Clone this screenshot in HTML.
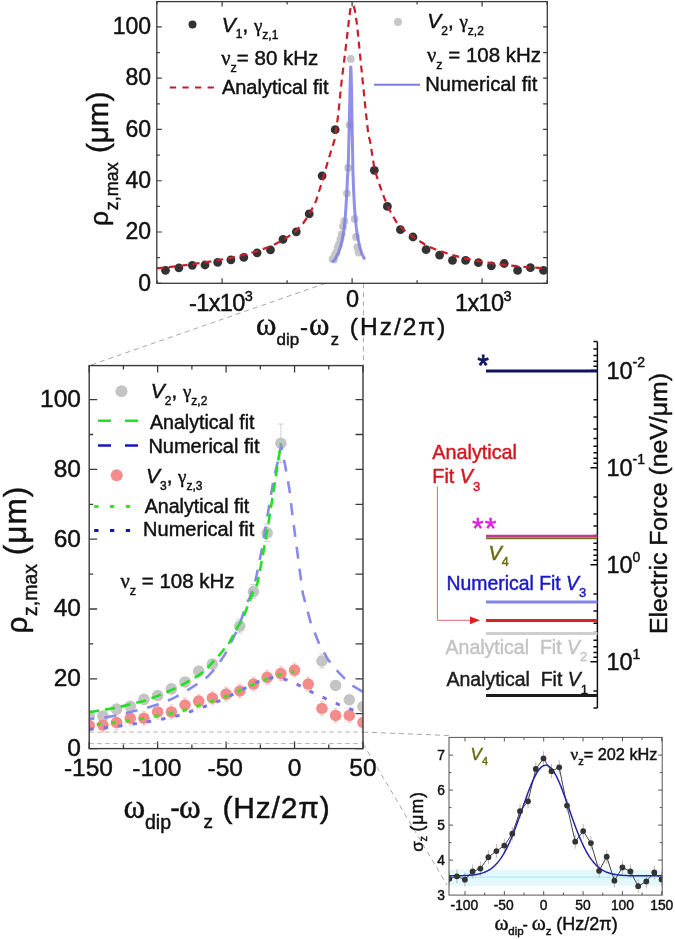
<!DOCTYPE html><html><head><meta charset="utf-8"><style>html,body{margin:0;padding:0;background:#fff;}svg{display:block;font-family:"Liberation Sans", sans-serif;filter:blur(0.4px);}</style></head><body>
<svg width="675" height="939" viewBox="0 0 675 939">
<rect width="675" height="939" fill="#fff"/>
<defs>
<clipPath id="ct"><rect x="156.8" y="1.6" width="390.5" height="281.7"/></clipPath>
<clipPath id="cl"><rect x="89.2" y="365.6" width="273.8" height="383"/></clipPath>
<clipPath id="ci"><rect x="449" y="737.4" width="213.2" height="157.7"/></clipPath>
</defs>
<line x1="325.5" y1="283.3" x2="89.2" y2="365.6" stroke="#a6a6a6" stroke-width="1" stroke-dasharray="5,4" fill="none"/>
<line x1="363.4" y1="283.3" x2="363.4" y2="365.6" stroke="#a6a6a6" stroke-width="1" stroke-dasharray="5,4" fill="none"/>
<line x1="363" y1="732.1" x2="449" y2="735.5" stroke="#a6a6a6" stroke-width="1" stroke-dasharray="5,4" fill="none"/>
<line x1="363" y1="743.6" x2="447" y2="885" stroke="#a6a6a6" stroke-width="1" stroke-dasharray="5,4" fill="none"/>
<path d="M157.1 283.3v-3M157.1 1.6v3M222.1 283.3v-5M222.1 1.6v5M287.1 283.3v-3M287.1 1.6v3M352.1 283.3v-5M352.1 1.6v5M417.1 283.3v-3M417.1 1.6v3M482.1 283.3v-5M482.1 1.6v5M547.1 283.3v-3M547.1 1.6v3M156.8 283.3h5M547.3 283.3h-4.2M156.8 257.66h3M547.3 257.66h-4.2M156.8 232.02h5M547.3 232.02h-4.2M156.8 206.38h3M547.3 206.38h-4.2M156.8 180.74h5M547.3 180.74h-4.2M156.8 155.1h3M547.3 155.1h-4.2M156.8 129.46h5M547.3 129.46h-4.2M156.8 103.82h3M547.3 103.82h-4.2M156.8 78.18h5M547.3 78.18h-4.2M156.8 52.54h3M547.3 52.54h-4.2M156.8 26.9h5M547.3 26.9h-4.2" stroke="#3a3a3a" stroke-width="1.2" fill="none"/>
<g clip-path="url(#ct)">
<circle cx="165.5" cy="270.3" r="4.4" fill="#333"/>
<circle cx="178.9" cy="267.8" r="4.4" fill="#333"/>
<circle cx="192.3" cy="265.3" r="4.4" fill="#333"/>
<circle cx="205" cy="265" r="4.4" fill="#333"/>
<circle cx="217.7" cy="262.3" r="4.4" fill="#333"/>
<circle cx="230.9" cy="259.8" r="4.4" fill="#333"/>
<circle cx="243.8" cy="257.4" r="4.4" fill="#333"/>
<circle cx="257.1" cy="252.8" r="4.4" fill="#333"/>
<circle cx="270.5" cy="249.9" r="4.4" fill="#333"/>
<circle cx="283" cy="239.3" r="4.4" fill="#333"/>
<circle cx="296.3" cy="231.8" r="4.4" fill="#333"/>
<circle cx="309.2" cy="213.9" r="4.4" fill="#333"/>
<circle cx="322.1" cy="175.8" r="4.4" fill="#333"/>
<circle cx="335.2" cy="129.7" r="4.4" fill="#333"/>
<circle cx="374.3" cy="170.3" r="4.4" fill="#333"/>
<circle cx="387.4" cy="206.4" r="4.4" fill="#333"/>
<circle cx="400.4" cy="229.7" r="4.4" fill="#333"/>
<circle cx="413" cy="237" r="4.4" fill="#333"/>
<circle cx="426.1" cy="249.7" r="4.4" fill="#333"/>
<circle cx="439.6" cy="255.1" r="4.4" fill="#333"/>
<circle cx="452.5" cy="260.4" r="4.4" fill="#333"/>
<circle cx="465.6" cy="260.4" r="4.4" fill="#333"/>
<circle cx="478.4" cy="262.7" r="4.4" fill="#333"/>
<circle cx="491.4" cy="265.8" r="4.4" fill="#333"/>
<circle cx="504.2" cy="263.5" r="4.4" fill="#333"/>
<circle cx="517.6" cy="270.4" r="4.4" fill="#333"/>
<circle cx="530.4" cy="267.7" r="4.4" fill="#333"/>
<circle cx="543.5" cy="270.4" r="4.4" fill="#333"/>
<polyline points="156.8,268.4 165.5,267.4 179,266 192,264.2 205,262.4 218,260.2 231,257.8 244,254.8 257,251.2 270,246.6 283,240.2 296,231 303,223.5 309,215 316,201 322,182 328,161 332,148 335,138.5 338.3,114 341.6,81.5 345.6,48.9 348.5,24 350.2,10 351.3,6.2 352.5,5.2 353.7,6.2 354.8,10 357,24.4 361.1,65.2 365.2,105.9 368.4,135.3 370.1,141.3 374.6,169.8 381.7,191.1 387.9,207.1 395.9,221.3 403,229.3 413.7,237.3 426.1,245.3 438.6,250.7 452.8,255.1 465.2,258.6 478,261 491,263.2 504,264.8 517,266.2 530,267.3 547.3,268.4" fill="none" stroke="#c81e2a" stroke-width="2.2" stroke-dasharray="7,5"/>
<circle cx="332.6" cy="258.94" r="3.9" fill="#c6c6c6"/>
<circle cx="333.9" cy="259.45" r="3.9" fill="#c6c6c6"/>
<circle cx="335.2" cy="254.33" r="3.9" fill="#c6c6c6"/>
<circle cx="336.5" cy="252.28" r="3.9" fill="#c6c6c6"/>
<circle cx="337.8" cy="247.15" r="3.9" fill="#c6c6c6"/>
<circle cx="339.1" cy="244.33" r="3.9" fill="#c6c6c6"/>
<circle cx="340.4" cy="239.46" r="3.9" fill="#c6c6c6"/>
<circle cx="341.7" cy="234.33" r="3.9" fill="#c6c6c6"/>
<circle cx="343" cy="226.38" r="3.9" fill="#c6c6c6"/>
<circle cx="344.3" cy="221.25" r="3.9" fill="#c6c6c6"/>
<circle cx="346.9" cy="193.3" r="3.9" fill="#c6c6c6"/>
<circle cx="348.2" cy="167.92" r="3.9" fill="#c6c6c6"/>
<circle cx="349.5" cy="124.84" r="3.9" fill="#c6c6c6"/>
<circle cx="350.8" cy="58.95" r="3.9" fill="#c6c6c6"/>
<circle cx="354.7" cy="218.94" r="3.9" fill="#c6c6c6"/>
<circle cx="356" cy="236.89" r="3.9" fill="#c6c6c6"/>
<circle cx="357.3" cy="247.4" r="3.9" fill="#c6c6c6"/>
<circle cx="358.6" cy="252.53" r="3.9" fill="#c6c6c6"/>
<polyline points="331.95,262.02 332.6,261.51 333.89,260.74 335.15,258.94 336.41,256.63 337.79,254.07 339.15,250.74 340.43,246.89 341.69,241.76 342.95,235.35 343.88,230.23 344.66,223.56 345.51,213.82 346,206.12 346.85,193.3 347.47,177.92 347.93,171 348.45,157.92 349.08,133.31 349.6,108.69 350.14,84.33 350.66,67.92 350.81,65.87 351.19,74.59 351.61,92.54 351.93,113.82 352.24,131.77 352.88,169.2 353.62,190.48 354.45,206.64 355.3,218.17 356.35,227.92 357.42,236.12 358.47,240.99 359.9,247.4 361.85,253.81 364.71,259.45" fill="none" stroke="#7c7ce6" stroke-opacity="0.85" stroke-width="3"/>
</g>
<rect x="156.8" y="1.6" width="390.5" height="281.7" fill="none" stroke="#3a3a3a" stroke-width="1.3"/>
<text x="151" y="290.6" font-size="23" text-anchor="end" fill="#111" stroke="#111" stroke-width="0.45">0</text>
<text x="151" y="239.32" font-size="23" text-anchor="end" fill="#111" stroke="#111" stroke-width="0.45">20</text>
<text x="151" y="188.04" font-size="23" text-anchor="end" fill="#111" stroke="#111" stroke-width="0.45">40</text>
<text x="151" y="136.76" font-size="23" text-anchor="end" fill="#111" stroke="#111" stroke-width="0.45">60</text>
<text x="151" y="85.48" font-size="23" text-anchor="end" fill="#111" stroke="#111" stroke-width="0.45">80</text>
<text x="151" y="34.2" font-size="23" text-anchor="end" fill="#111" stroke="#111" stroke-width="0.45">100</text>
<text x="189" y="311" font-size="23.5" letter-spacing="-0.6" fill="#111" stroke="#111" stroke-width="0.45">-1x10<tspan font-size="14.5" dy="-10.5">3</tspan></text>
<text x="352.5" y="307.2" font-size="23.5" text-anchor="middle" fill="#111" stroke="#111" stroke-width="0.45">0</text>
<text x="455" y="311" font-size="23.5" letter-spacing="-0.6" fill="#111" stroke="#111" stroke-width="0.45">1x10<tspan font-size="14.5" dy="-10.5">3</tspan></text>
<text x="255.9" y="335" font-size="31" fill="#111" stroke="#111" stroke-width="0.45" font-family="Liberation Serif">ω</text>
<text x="276.5" y="344.6" font-size="17" fill="#111" stroke="#111" stroke-width="0.45">dip</text>
<text x="300" y="335" font-size="24" fill="#111" stroke="#111" stroke-width="0.45">-</text>
<text x="308.9" y="335" font-size="31" fill="#111" stroke="#111" stroke-width="0.45" font-family="Liberation Serif">ω</text>
<text x="330.8" y="344.6" font-size="16.5" fill="#111" stroke="#111" stroke-width="0.45">z</text>
<text x="349.8" y="334.5" font-size="24.5" letter-spacing="2.0" fill="#111" stroke="#111" stroke-width="0.45">(Hz/2π)</text>
<text transform="translate(107.6,226) rotate(-90)" font-size="26.5" fill="#111" stroke="#111" stroke-width="0.45">ρ</text>
<text transform="translate(117.6,210.3) rotate(-90)" font-size="18" fill="#111" stroke="#111" stroke-width="0.45">z,max</text>
<text transform="translate(107.6,153) rotate(-90)" font-size="29.5" fill="#111" stroke="#111" stroke-width="0.45">(μm)</text>
<circle cx="192.5" cy="24.5" r="4" fill="#333"/>
<text x="221.8" y="31.5" font-size="20.5" fill="#111" stroke="#111" stroke-width="0.45"><tspan font-style="italic" font-size="21">V</tspan><tspan font-size="12" dy="6.5">1</tspan><tspan dy="-6.5">, </tspan><tspan font-family="Liberation Serif" font-size="19">γ</tspan><tspan font-size="12" dy="7">z,1</tspan></text>
<text x="221.3" y="64.5" font-size="20.5" fill="#111" stroke="#111" stroke-width="0.45"><tspan font-family="Liberation Serif" font-size="20.5">ν</tspan><tspan font-size="12.5" dy="7.5">z</tspan><tspan dy="-7.5">= 80 kHz</tspan></text>
<line x1="169.8" y1="87.4" x2="214" y2="87.4" stroke="#c0202a" stroke-width="2" stroke-dasharray="6.3,6.3"/>
<text x="221.9" y="93.9" font-size="20" fill="#111" stroke="#111" stroke-width="0.45">Analytical fit</text>
<circle cx="398" cy="21.9" r="4" fill="#c6c6c6"/>
<text x="427.3" y="28.3" font-size="20.5" fill="#111" stroke="#111" stroke-width="0.45"><tspan font-style="italic" font-size="21">V</tspan><tspan font-size="12" dy="6.5">2</tspan><tspan dy="-6.5">, </tspan><tspan font-family="Liberation Serif" font-size="19">γ</tspan><tspan font-size="12" dy="7">z,2</tspan></text>
<text x="427" y="61.6" font-size="20.5" fill="#111" stroke="#111" stroke-width="0.45"><tspan font-family="Liberation Serif" font-size="20.5">ν</tspan><tspan font-size="12.5" dy="7.5">z</tspan><tspan dy="-7.5"> = 108 kHz</tspan></text>
<line x1="374" y1="84.8" x2="420" y2="84.8" stroke="#7c7ce6" stroke-width="2"/>
<text x="425.2" y="90.7" font-size="20.2" fill="#111" stroke="#111" stroke-width="0.45">Numerical fit</text>
<path d="M89.2 748.6v-7M89.2 365.6v7M123.43 748.6v-4M123.43 365.6v4M157.65 748.6v-7M157.65 365.6v7M191.88 748.6v-4M191.88 365.6v4M226.1 748.6v-7M226.1 365.6v7M260.32 748.6v-4M260.32 365.6v4M294.55 748.6v-7M294.55 365.6v7M328.77 748.6v-4M328.77 365.6v4M363 748.6v-7M363 365.6v7M89.2 748.6h8M363 748.6h-7.5M89.2 713.7h4M363 713.7h-7.5M89.2 678.8h8M363 678.8h-7.5M89.2 643.9h4M363 643.9h-7.5M89.2 609h8M363 609h-7.5M89.2 574.1h4M363 574.1h-7.5M89.2 539.2h8M363 539.2h-7.5M89.2 504.3h4M363 504.3h-7.5M89.2 469.4h8M363 469.4h-7.5M89.2 434.5h4M363 434.5h-7.5M89.2 399.6h8M363 399.6h-7.5" stroke="#3a3a3a" stroke-width="1.3" fill="none"/>
<g clip-path="url(#cl)">
<line x1="89.2" y1="732.1" x2="363" y2="732.1" stroke="#a8a8a8" stroke-width="0.9" stroke-dasharray="4.5,3.5"/>
<line x1="89.2" y1="743.6" x2="363" y2="743.6" stroke="#a8a8a8" stroke-width="0.9" stroke-dasharray="4.5,3.5"/>
<path d="M89.2 711.26V719.63" stroke="#c8c8c8" stroke-width="0.8"/>
<path d="M86.2 711.26h6M86.2 719.63h6" stroke="#c8c8c8" stroke-width="0.8"/>
<path d="M102.89 711.96V720.33" stroke="#c8c8c8" stroke-width="0.8"/>
<path d="M99.89 711.96h6M99.89 720.33h6" stroke="#c8c8c8" stroke-width="0.8"/>
<path d="M116.58 704.98V713.35" stroke="#c8c8c8" stroke-width="0.8"/>
<path d="M113.58 704.98h6M113.58 713.35h6" stroke="#c8c8c8" stroke-width="0.8"/>
<path d="M130.27 702.18V710.56" stroke="#c8c8c8" stroke-width="0.8"/>
<path d="M127.27 702.18h6M127.27 710.56h6" stroke="#c8c8c8" stroke-width="0.8"/>
<path d="M143.96 695.2V703.58" stroke="#c8c8c8" stroke-width="0.8"/>
<path d="M140.96 695.2h6M140.96 703.58h6" stroke="#c8c8c8" stroke-width="0.8"/>
<path d="M157.65 691.36V699.74" stroke="#c8c8c8" stroke-width="0.8"/>
<path d="M154.65 691.36h6M154.65 699.74h6" stroke="#c8c8c8" stroke-width="0.8"/>
<path d="M171.34 684.73V693.11" stroke="#c8c8c8" stroke-width="0.8"/>
<path d="M168.34 684.73h6M168.34 693.11h6" stroke="#c8c8c8" stroke-width="0.8"/>
<path d="M185.03 677.75V686.13" stroke="#c8c8c8" stroke-width="0.8"/>
<path d="M182.03 677.75h6M182.03 686.13h6" stroke="#c8c8c8" stroke-width="0.8"/>
<path d="M198.72 666.93V675.31" stroke="#c8c8c8" stroke-width="0.8"/>
<path d="M195.72 666.93h6M195.72 675.31h6" stroke="#c8c8c8" stroke-width="0.8"/>
<path d="M212.41 659.95V668.33" stroke="#c8c8c8" stroke-width="0.8"/>
<path d="M209.41 659.95h6M209.41 668.33h6" stroke="#c8c8c8" stroke-width="0.8"/>
<path d="M239.79 619.12V633.08" stroke="#c8c8c8" stroke-width="0.8"/>
<path d="M236.79 619.12h6M236.79 633.08h6" stroke="#c8c8c8" stroke-width="0.8"/>
<path d="M253.48 584.57V598.53" stroke="#c8c8c8" stroke-width="0.8"/>
<path d="M250.48 584.57h6M250.48 598.53h6" stroke="#c8c8c8" stroke-width="0.8"/>
<path d="M267.17 524.19V541.64" stroke="#c8c8c8" stroke-width="0.8"/>
<path d="M264.17 524.19h6M264.17 541.64h6" stroke="#c8c8c8" stroke-width="0.8"/>
<path d="M280.86 424.03V462.42" stroke="#c8c8c8" stroke-width="0.8"/>
<path d="M277.86 424.03h6M277.86 462.42h6" stroke="#c8c8c8" stroke-width="0.8"/>
<path d="M321.93 654.02V667.98" stroke="#c8c8c8" stroke-width="0.8"/>
<path d="M318.93 654.02h6M318.93 667.98h6" stroke="#c8c8c8" stroke-width="0.8"/>
<path d="M335.62 681.24V689.62" stroke="#c8c8c8" stroke-width="0.8"/>
<path d="M332.62 681.24h6M332.62 689.62h6" stroke="#c8c8c8" stroke-width="0.8"/>
<path d="M349.31 695.55V703.93" stroke="#c8c8c8" stroke-width="0.8"/>
<path d="M346.31 695.55h6M346.31 703.93h6" stroke="#c8c8c8" stroke-width="0.8"/>
<path d="M363 702.53V710.91" stroke="#c8c8c8" stroke-width="0.8"/>
<path d="M360 702.53h6M360 710.91h6" stroke="#c8c8c8" stroke-width="0.8"/>
<circle cx="89.2" cy="715.45" r="5.8" fill="#c4c4c4"/>
<circle cx="102.89" cy="716.14" r="5.8" fill="#c4c4c4"/>
<circle cx="116.58" cy="709.16" r="5.8" fill="#c4c4c4"/>
<circle cx="130.27" cy="706.37" r="5.8" fill="#c4c4c4"/>
<circle cx="143.96" cy="699.39" r="5.8" fill="#c4c4c4"/>
<circle cx="157.65" cy="695.55" r="5.8" fill="#c4c4c4"/>
<circle cx="171.34" cy="688.92" r="5.8" fill="#c4c4c4"/>
<circle cx="185.03" cy="681.94" r="5.8" fill="#c4c4c4"/>
<circle cx="198.72" cy="671.12" r="5.8" fill="#c4c4c4"/>
<circle cx="212.41" cy="664.14" r="5.8" fill="#c4c4c4"/>
<circle cx="239.79" cy="626.1" r="5.8" fill="#c4c4c4"/>
<circle cx="253.48" cy="591.55" r="5.8" fill="#c4c4c4"/>
<circle cx="267.17" cy="532.92" r="5.8" fill="#c4c4c4"/>
<circle cx="280.86" cy="443.23" r="5.8" fill="#c4c4c4"/>
<circle cx="321.93" cy="661" r="5.8" fill="#c4c4c4"/>
<circle cx="335.62" cy="685.43" r="5.8" fill="#c4c4c4"/>
<circle cx="349.31" cy="699.74" r="5.8" fill="#c4c4c4"/>
<circle cx="363" cy="706.72" r="5.8" fill="#c4c4c4"/>
<path d="M89.2 718.57V732.57" stroke="#f6b4b4" stroke-width="0.7"/>
<path d="M87.2 718.57h4M87.2 732.57h4" stroke="#f6b4b4" stroke-width="0.7"/>
<path d="M102.89 718.22V732.22" stroke="#f6b4b4" stroke-width="0.7"/>
<path d="M100.89 718.22h4M100.89 732.22h4" stroke="#f6b4b4" stroke-width="0.7"/>
<path d="M116.58 715.43V729.43" stroke="#f6b4b4" stroke-width="0.7"/>
<path d="M114.58 715.43h4M114.58 729.43h4" stroke="#f6b4b4" stroke-width="0.7"/>
<path d="M130.27 711.24V725.24" stroke="#f6b4b4" stroke-width="0.7"/>
<path d="M128.27 711.24h4M128.27 725.24h4" stroke="#f6b4b4" stroke-width="0.7"/>
<path d="M143.96 711.24V725.24" stroke="#f6b4b4" stroke-width="0.7"/>
<path d="M141.96 711.24h4M141.96 725.24h4" stroke="#f6b4b4" stroke-width="0.7"/>
<path d="M157.65 704.96V718.96" stroke="#f6b4b4" stroke-width="0.7"/>
<path d="M155.65 704.96h4M155.65 718.96h4" stroke="#f6b4b4" stroke-width="0.7"/>
<path d="M171.34 704.96V718.96" stroke="#f6b4b4" stroke-width="0.7"/>
<path d="M169.34 704.96h4M169.34 718.96h4" stroke="#f6b4b4" stroke-width="0.7"/>
<path d="M185.03 697.98V711.98" stroke="#f6b4b4" stroke-width="0.7"/>
<path d="M183.03 697.98h4M183.03 711.98h4" stroke="#f6b4b4" stroke-width="0.7"/>
<path d="M198.72 694.14V708.14" stroke="#f6b4b4" stroke-width="0.7"/>
<path d="M196.72 694.14h4M196.72 708.14h4" stroke="#f6b4b4" stroke-width="0.7"/>
<path d="M212.41 691V705" stroke="#f6b4b4" stroke-width="0.7"/>
<path d="M210.41 691h4M210.41 705h4" stroke="#f6b4b4" stroke-width="0.7"/>
<path d="M226.1 687.16V701.16" stroke="#f6b4b4" stroke-width="0.7"/>
<path d="M224.1 687.16h4M224.1 701.16h4" stroke="#f6b4b4" stroke-width="0.7"/>
<path d="M239.79 684.01V698.01" stroke="#f6b4b4" stroke-width="0.7"/>
<path d="M237.79 684.01h4M237.79 698.01h4" stroke="#f6b4b4" stroke-width="0.7"/>
<path d="M253.48 677.04V691.04" stroke="#f6b4b4" stroke-width="0.7"/>
<path d="M251.48 677.04h4M251.48 691.04h4" stroke="#f6b4b4" stroke-width="0.7"/>
<path d="M267.17 670.4V684.4" stroke="#f6b4b4" stroke-width="0.7"/>
<path d="M265.17 670.4h4M265.17 684.4h4" stroke="#f6b4b4" stroke-width="0.7"/>
<path d="M280.86 666.57V680.57" stroke="#f6b4b4" stroke-width="0.7"/>
<path d="M278.86 666.57h4M278.86 680.57h4" stroke="#f6b4b4" stroke-width="0.7"/>
<path d="M294.55 663.08V677.08" stroke="#f6b4b4" stroke-width="0.7"/>
<path d="M292.55 663.08h4M292.55 677.08h4" stroke="#f6b4b4" stroke-width="0.7"/>
<path d="M308.24 677.04V691.04" stroke="#f6b4b4" stroke-width="0.7"/>
<path d="M306.24 677.04h4M306.24 691.04h4" stroke="#f6b4b4" stroke-width="0.7"/>
<path d="M321.93 701.47V715.47" stroke="#f6b4b4" stroke-width="0.7"/>
<path d="M319.93 701.47h4M319.93 715.47h4" stroke="#f6b4b4" stroke-width="0.7"/>
<path d="M335.62 708.45V722.45" stroke="#f6b4b4" stroke-width="0.7"/>
<path d="M333.62 708.45h4M333.62 722.45h4" stroke="#f6b4b4" stroke-width="0.7"/>
<path d="M349.31 708.45V722.45" stroke="#f6b4b4" stroke-width="0.7"/>
<path d="M347.31 708.45h4M347.31 722.45h4" stroke="#f6b4b4" stroke-width="0.7"/>
<path d="M363 715.43V729.43" stroke="#f6b4b4" stroke-width="0.7"/>
<path d="M361 715.43h4M361 729.43h4" stroke="#f6b4b4" stroke-width="0.7"/>
<circle cx="89.2" cy="725.57" r="5.8" fill="#f48c8c"/>
<circle cx="102.89" cy="725.22" r="5.8" fill="#f48c8c"/>
<circle cx="116.58" cy="722.43" r="5.8" fill="#f48c8c"/>
<circle cx="130.27" cy="718.24" r="5.8" fill="#f48c8c"/>
<circle cx="143.96" cy="718.24" r="5.8" fill="#f48c8c"/>
<circle cx="157.65" cy="711.96" r="5.8" fill="#f48c8c"/>
<circle cx="171.34" cy="711.96" r="5.8" fill="#f48c8c"/>
<circle cx="185.03" cy="704.98" r="5.8" fill="#f48c8c"/>
<circle cx="198.72" cy="701.14" r="5.8" fill="#f48c8c"/>
<circle cx="212.41" cy="698" r="5.8" fill="#f48c8c"/>
<circle cx="226.1" cy="694.16" r="5.8" fill="#f48c8c"/>
<circle cx="239.79" cy="691.01" r="5.8" fill="#f48c8c"/>
<circle cx="253.48" cy="684.04" r="5.8" fill="#f48c8c"/>
<circle cx="267.17" cy="677.4" r="5.8" fill="#f48c8c"/>
<circle cx="280.86" cy="673.57" r="5.8" fill="#f48c8c"/>
<circle cx="294.55" cy="670.08" r="5.8" fill="#f48c8c"/>
<circle cx="308.24" cy="684.04" r="5.8" fill="#f48c8c"/>
<circle cx="321.93" cy="708.47" r="5.8" fill="#f48c8c"/>
<circle cx="335.62" cy="715.45" r="5.8" fill="#f48c8c"/>
<circle cx="349.31" cy="715.45" r="5.8" fill="#f48c8c"/>
<circle cx="363" cy="722.43" r="5.8" fill="#f48c8c"/>
<polyline points="82.36,719.63 89.2,718.94 102.75,717.89 116.03,715.45 129.31,712.3 143.82,708.81 158.2,704.28 171.61,699.04 184.89,692.06 198.17,683.34 208.03,676.36 216.24,667.28 225.14,654.02 230.34,643.55 239.24,626.1 245.81,605.16 250.61,595.74 256.08,577.94 262.79,544.43 268.27,510.93 273.88,477.78 279.35,455.44 281,444.97 284.97,464.51 289.35,488.94 292.77,517.91 296.06,542.34 302.76,593.3 310.57,622.26 319.33,644.25 328.23,659.95 339.32,673.22 350.54,684.38 361.63,691.01 376.69,699.74 397.22,708.47 427.34,716.14" fill="none" stroke="#8a8ae8" stroke-width="2.6" stroke-dasharray="12,10"/>
<polyline points="89.2,712.2 102.8,710 116.1,707.8 129.4,704.4 143.9,701.1 158.3,695.6 171.7,690 185,683.3 198.3,675.6 205,670.5 211.9,663 217.8,657 229.6,642.2 237,628 243,618.5 248,605 253.3,591.6 257.2,584.4 262.8,555.6 268.3,524.4 273.2,493.3 278.3,460 281,443.3" fill="none" stroke="#22e022" stroke-width="2.6" stroke-dasharray="10,6"/>
<polyline points="89.2,729.2 104.9,727.6 120,725.9 136,723.6 151.1,721.2 167.1,718.2 182.2,714.7 196.4,709.3 211.9,704.1 225.9,697.8 240,690.8 254.1,683.4 265,679 275,677.3 285.2,679.3 298.4,685 313.3,692.8 327.2,699.4 342.2,706.1 356.7,711.3 363,713.5" fill="none" stroke="#7c74e4" stroke-width="3" stroke-dasharray="4.5,10"/>
<polyline points="89.2,725.4 104.9,723.6 120,721.8 134.2,720 149.3,717.3 164.4,714.7 178.7,712 192.9,707.6 206.7,703 221.5,698.2 235.6,692.3 243,688.9 257.8,682.5 272.6,676.6 287.4,673 294,671.5" fill="none" stroke="#3ee020" stroke-width="3" stroke-dasharray="4.5,10" stroke-dashoffset="7"/>
</g>
<rect x="89.2" y="365.6" width="273.8" height="383" fill="none" stroke="#3a3a3a" stroke-width="1.4"/>
<text x="81" y="756" font-size="24.5" text-anchor="end" fill="#111" stroke="#111" stroke-width="0.45">0</text>
<text x="81" y="686.2" font-size="24.5" text-anchor="end" fill="#111" stroke="#111" stroke-width="0.45">20</text>
<text x="81" y="616.4" font-size="24.5" text-anchor="end" fill="#111" stroke="#111" stroke-width="0.45">40</text>
<text x="81" y="546.6" font-size="24.5" text-anchor="end" fill="#111" stroke="#111" stroke-width="0.45">60</text>
<text x="81" y="476.8" font-size="24.5" text-anchor="end" fill="#111" stroke="#111" stroke-width="0.45">80</text>
<text x="81" y="407" font-size="24.5" text-anchor="end" fill="#111" stroke="#111" stroke-width="0.45">100</text>
<text x="88.4" y="775.6" font-size="24.5" text-anchor="middle" fill="#111" stroke="#111" stroke-width="0.45">-150</text>
<text x="156.85" y="775.6" font-size="24.5" text-anchor="middle" fill="#111" stroke="#111" stroke-width="0.45">-100</text>
<text x="225.3" y="775.6" font-size="24.5" text-anchor="middle" fill="#111" stroke="#111" stroke-width="0.45">-50</text>
<text x="294.55" y="775.6" font-size="24.5" text-anchor="middle" fill="#111" stroke="#111" stroke-width="0.45">0</text>
<text x="363" y="775.6" font-size="24.5" text-anchor="middle" fill="#111" stroke="#111" stroke-width="0.45">50</text>
<text x="123.6" y="818" font-size="33" fill="#111" stroke="#111" stroke-width="0.45" font-family="Liberation Serif">ω</text>
<text x="145" y="829" font-size="19.5" fill="#111" stroke="#111" stroke-width="0.45">dip</text>
<text x="170.3" y="818" font-size="29" fill="#111" stroke="#111" stroke-width="0.45">-</text>
<text x="179.1" y="818" font-size="33" fill="#111" stroke="#111" stroke-width="0.45" font-family="Liberation Serif">ω</text>
<text x="203.6" y="828.2" font-size="19" fill="#111" stroke="#111" stroke-width="0.45">z</text>
<text x="222.5" y="818" font-size="30" letter-spacing="0.8" fill="#111" stroke="#111" stroke-width="0.45">(Hz/2π)</text>
<text transform="translate(26.8,633.5) rotate(-90)" font-size="30" fill="#111" stroke="#111" stroke-width="0.45">ρ</text>
<text transform="translate(37.1,616) rotate(-90)" font-size="19.5" fill="#111" stroke="#111" stroke-width="0.45">z,max</text>
<text transform="translate(26,555.2) rotate(-90)" font-size="31.5" fill="#111" stroke="#111" stroke-width="0.45" letter-spacing="1">(μm)</text>
<circle cx="121.5" cy="391.3" r="6" fill="#c4c4c4"/>
<text x="150.8" y="398" font-size="20.5" fill="#111" stroke="#111" stroke-width="0.45"><tspan font-style="italic" font-size="21">V</tspan><tspan font-size="12" dy="6.5">2</tspan><tspan dy="-6.5">, </tspan><tspan font-family="Liberation Serif" font-size="19">γ</tspan><tspan font-size="12" dy="7">z,2</tspan></text>
<line x1="98" y1="420.7" x2="139" y2="420.7" stroke="#22e022" stroke-width="2.6" stroke-dasharray="13,14"/>
<text x="150" y="428.5" font-size="19.6" fill="#111" stroke="#111" stroke-width="0.45">Analytical fit</text>
<line x1="98" y1="445.5" x2="139" y2="445.5" stroke="#1818c0" stroke-width="2.6" stroke-dasharray="13,14"/>
<text x="148.4" y="452.5" font-size="20" fill="#111" stroke="#111" stroke-width="0.45">Numerical fit</text>
<circle cx="116.7" cy="475.3" r="6" fill="#f48c8c"/>
<text x="146" y="483" font-size="20.5" fill="#111" stroke="#111" stroke-width="0.45"><tspan font-style="italic" font-size="21">V</tspan><tspan font-size="12" dy="6.5">3</tspan><tspan dy="-6.5">, </tspan><tspan font-family="Liberation Serif" font-size="19">γ</tspan><tspan font-size="12" dy="7">z,3</tspan></text>
<line x1="94.2" y1="506.4" x2="131" y2="506.4" stroke="#3ee020" stroke-width="3" stroke-dasharray="4.3,11.5"/>
<text x="144.7" y="512.7" font-size="19.6" fill="#111" stroke="#111" stroke-width="0.45">Analytical fit</text>
<line x1="94.2" y1="530.4" x2="131" y2="530.4" stroke="#1414b8" stroke-width="3" stroke-dasharray="4.3,11.5"/>
<text x="143.1" y="535.8" font-size="20" fill="#111" stroke="#111" stroke-width="0.45">Numerical fit</text>
<text x="120.5" y="587.8" font-size="20.5" fill="#111" stroke="#111" stroke-width="0.45"><tspan font-family="Liberation Serif" font-size="20.5">ν</tspan><tspan font-size="12.5" dy="7.5">z</tspan><tspan dy="-7.5"> = 108 kHz</tspan></text>
<path d="M597.4 341.5V708M597.4 341.38h-4M597.4 349.07h-4M597.4 355.56h-4M597.4 361.19h-4M597.4 366.16h-4M597.4 370.6h-7M597.4 399.82h-4M597.4 416.91h-4M597.4 429.04h-4M597.4 438.45h-4M597.4 446.14h-4M597.4 452.63h-4M597.4 458.26h-4M597.4 463.23h-4M597.4 467.67h-7M597.4 496.89h-4M597.4 513.98h-4M597.4 526.11h-4M597.4 535.52h-4M597.4 543.21h-4M597.4 549.7h-4M597.4 555.33h-4M597.4 560.3h-4M597.4 564.74h-7M597.4 593.96h-4M597.4 611.05h-4M597.4 623.18h-4M597.4 632.59h-4M597.4 640.28h-4M597.4 646.77h-4M597.4 652.4h-4M597.4 657.37h-4M597.4 661.81h-7M597.4 691.03h-4M597.4 708.12h-4" stroke="#111" stroke-width="1.5" fill="none"/>
<text x="606.4" y="378.9" font-size="23.5" fill="#111" stroke="#111" stroke-width="0.45">10<tspan font-size="14" dy="-11.5">-2</tspan></text>
<text x="606.4" y="475.97" font-size="23.5" fill="#111" stroke="#111" stroke-width="0.45">10<tspan font-size="14" dy="-11.5">-1</tspan></text>
<text x="606.4" y="573.04" font-size="23.5" fill="#111" stroke="#111" stroke-width="0.45">10<tspan font-size="14" dy="-11.5">0</tspan></text>
<text x="606.4" y="670.11" font-size="23.5" fill="#111" stroke="#111" stroke-width="0.45">10<tspan font-size="14" dy="-11.5">1</tspan></text>
<text transform="translate(667.2,634) rotate(-90)" font-size="24.8" fill="#111" stroke="#111" stroke-width="0.45">Electric Force (neV/μm)</text>
<line x1="486" y1="370.9" x2="597.4" y2="370.9" stroke="#12125e" stroke-width="3"/>
<line x1="486" y1="535.9" x2="597.4" y2="535.9" stroke="#c03c8c" stroke-width="2.2"/>
<line x1="486" y1="538.3" x2="597.4" y2="538.3" stroke="#7a7418" stroke-width="2"/>
<line x1="486" y1="602" x2="597.4" y2="602" stroke="#8484e6" stroke-width="3"/>
<line x1="486" y1="620.5" x2="597.4" y2="620.5" stroke="#dd1f1f" stroke-width="3"/>
<line x1="486" y1="633.4" x2="597.4" y2="633.4" stroke="#cfcfcf" stroke-width="3"/>
<line x1="486" y1="695.6" x2="597.4" y2="695.6" stroke="#1c1c1c" stroke-width="3"/>
<text x="477.5" y="375" font-size="29" fill="#12125e" stroke="#12125e" stroke-width="0.9">*</text>
<text x="472" y="538" font-size="30" fill="#e01ee0" stroke="#e01ee0" stroke-width="0.45" letter-spacing="1.2">**</text>
<text x="432.3" y="459" font-size="19.8" fill="#d4161e" stroke="#d4161e" stroke-width="0.45">Analytical</text>
<text x="432.3" y="483.3" font-size="19.8" fill="#d4161e" stroke="#d4161e" stroke-width="0.45">Fit <tspan font-style="italic">V</tspan><tspan font-size="13" dy="7.5">3</tspan></text>
<path d="M437.4 486.5V620.3H472" stroke="#e06a6a" stroke-width="1" fill="none"/>
<path d="M470 616.4L480 620.3L470 624.2Z" fill="#dd1f1f"/>
<text x="488.5" y="559.5" font-size="20" fill="#6e6a12" stroke="#6e6a12" stroke-width="0.45" font-style="italic">V<tspan font-style="normal" font-size="12.5" dy="6">4</tspan></text>
<text x="446.5" y="589.7" font-size="19.4" fill="#1a1ac4" stroke="#1a1ac4" stroke-width="0.45">Numerical Fit <tspan font-style="italic">V</tspan><tspan font-size="13" dy="7">3</tspan></text>
<text x="445.6" y="654.4" font-size="19.5" fill="#c4c4c4" stroke="#c4c4c4" stroke-width="0.45" xml:space="preserve">Analytical  Fit <tspan font-style="italic">V</tspan><tspan font-size="13" dy="7">2</tspan></text>
<text x="446.4" y="686.4" font-size="19.5" fill="#1c1c1c" stroke="#1c1c1c" stroke-width="0.45" xml:space="preserve">Analytical  Fit <tspan font-style="italic">V</tspan><tspan font-size="13" dy="7.5">1</tspan></text>
<path d="M465 895.1v-4M465 737.4v4M484.68 895.1v-2.5M484.68 737.4v2.5M504.35 895.1v-4M504.35 737.4v4M524.03 895.1v-2.5M524.03 737.4v2.5M543.7 895.1v-4M543.7 737.4v4M563.38 895.1v-2.5M563.38 737.4v2.5M583.05 895.1v-4M583.05 737.4v4M602.73 895.1v-2.5M602.73 737.4v2.5M622.4 895.1v-4M622.4 737.4v4M642.08 895.1v-2.5M642.08 737.4v2.5M661.75 895.1v-4M661.75 737.4v4M449 877.6h2.5M662.2 877.6h-2.5M449 860.1h4M662.2 860.1h-4M449 842.6h2.5M662.2 842.6h-2.5M449 825.1h4M662.2 825.1h-4M449 807.6h2.5M662.2 807.6h-2.5M449 790.1h4M662.2 790.1h-4M449 772.6h2.5M662.2 772.6h-2.5M449 755.1h4M662.2 755.1h-4" stroke="#555" stroke-width="1" fill="none"/>
<g clip-path="url(#ci)">
<rect x="449" y="869.8" width="213.2" height="15.9" fill="#e2f8fb"/>
<line x1="449" y1="877.1" x2="662.2" y2="877.1" stroke="#a8e8f2" stroke-width="1"/>
<path d="M449.3 871.8V885.8" stroke="#b8b8b8" stroke-width="1"/>
<path d="M456.9 869.3V883.3" stroke="#b8b8b8" stroke-width="1"/>
<path d="M464.9 872.7V886.7" stroke="#b8b8b8" stroke-width="1"/>
<path d="M472.6 864.5V878.5" stroke="#b8b8b8" stroke-width="1"/>
<path d="M480.4 861.6V875.6" stroke="#b8b8b8" stroke-width="1"/>
<path d="M488.4 850.2V864.2" stroke="#b8b8b8" stroke-width="1"/>
<path d="M496.4 844.1V858.1" stroke="#b8b8b8" stroke-width="1"/>
<path d="M504.3 838.6V852.6" stroke="#b8b8b8" stroke-width="1"/>
<path d="M512.3 826.7V840.7" stroke="#b8b8b8" stroke-width="1"/>
<path d="M520 804.2V818.2" stroke="#b8b8b8" stroke-width="1"/>
<path d="M528 794.3V808.3" stroke="#b8b8b8" stroke-width="1"/>
<path d="M535.8 762V776" stroke="#b8b8b8" stroke-width="1"/>
<path d="M543.5 751.4V765.4" stroke="#b8b8b8" stroke-width="1"/>
<path d="M551.5 764.2V778.2" stroke="#b8b8b8" stroke-width="1"/>
<path d="M559.2 760.3V774.3" stroke="#b8b8b8" stroke-width="1"/>
<path d="M567 798.6V812.6" stroke="#b8b8b8" stroke-width="1"/>
<path d="M575.2 834.7V848.7" stroke="#b8b8b8" stroke-width="1"/>
<path d="M583.2 824.1V838.1" stroke="#b8b8b8" stroke-width="1"/>
<path d="M590.9 836.1V850.1" stroke="#b8b8b8" stroke-width="1"/>
<path d="M599.1 863.8V877.8" stroke="#b8b8b8" stroke-width="1"/>
<path d="M606.7 849.7V863.7" stroke="#b8b8b8" stroke-width="1"/>
<path d="M614.4 873.7V887.7" stroke="#b8b8b8" stroke-width="1"/>
<path d="M622.4 860.4V874.4" stroke="#b8b8b8" stroke-width="1"/>
<path d="M630.4 864.5V878.5" stroke="#b8b8b8" stroke-width="1"/>
<path d="M638.2 879.2V893.2" stroke="#b8b8b8" stroke-width="1"/>
<path d="M646.3 874.4V888.4" stroke="#b8b8b8" stroke-width="1"/>
<path d="M654.3 865.5V879.5" stroke="#b8b8b8" stroke-width="1"/>
<path d="M661.6 872.4V886.4" stroke="#b8b8b8" stroke-width="1"/>
<polyline points="449.3,878.8 456.9,876.3 464.9,879.7 472.6,871.5 480.4,868.6 488.4,857.2 496.4,851.1 504.3,845.6 512.3,833.7 520,811.2 528,801.3 535.8,769 543.5,758.4 551.5,771.2 559.2,767.3 567,805.6 575.2,841.7 583.2,831.1 590.9,843.1 599.1,870.8 606.7,856.7 614.4,880.7 622.4,867.4 630.4,871.5 638.2,886.2 646.3,881.4 654.3,872.5 661.6,879.4" fill="none" stroke="#444" stroke-width="1"/>
<polyline points="445.33,875.84 446.06,875.84 446.79,875.84 447.53,875.83 448.26,875.83 449,875.83 449.73,875.83 450.47,875.82 451.2,875.82 451.94,875.81 452.67,875.81 453.4,875.8 454.14,875.8 454.87,875.79 455.61,875.78 456.34,875.78 457.08,875.77 457.81,875.76 458.55,875.74 459.28,875.73 460.02,875.72 460.75,875.7 461.48,875.68 462.22,875.66 462.95,875.64 463.69,875.61 464.42,875.59 465.16,875.56 465.89,875.52 466.63,875.49 467.36,875.45 468.1,875.4 468.83,875.35 469.56,875.3 470.3,875.24 471.03,875.17 471.77,875.1 472.5,875.03 473.24,874.94 473.97,874.85 474.71,874.75 475.44,874.64 476.18,874.52 476.91,874.39 477.64,874.25 478.38,874.1 479.11,873.93 479.85,873.75 480.58,873.56 481.32,873.35 482.05,873.13 482.79,872.88 483.52,872.62 484.26,872.34 484.99,872.04 485.72,871.72 486.46,871.38 487.19,871.01 487.93,870.62 488.66,870.2 489.4,869.75 490.13,869.27 490.87,868.77 491.6,868.23 492.34,867.66 493.07,867.06 493.8,866.42 494.54,865.74 495.27,865.03 496.01,864.27 496.74,863.48 497.48,862.65 498.21,861.77 498.95,860.85 499.68,859.88 500.42,858.87 501.15,857.82 501.88,856.71 502.62,855.56 503.35,854.37 504.09,853.12 504.82,851.83 505.56,850.48 506.29,849.09 507.03,847.65 507.76,846.16 508.49,844.62 509.23,843.04 509.96,841.41 510.7,839.73 511.43,838.01 512.17,836.25 512.9,834.44 513.64,832.6 514.37,830.72 515.11,828.8 515.84,826.86 516.57,824.88 517.31,822.87 518.04,820.84 518.78,818.78 519.51,816.71 520.25,814.63 520.98,812.53 521.72,810.42 522.45,808.32 523.19,806.21 523.92,804.11 524.65,802.02 525.39,799.94 526.12,797.88 526.86,795.84 527.59,793.83 528.33,791.86 529.06,789.92 529.8,788.02 530.53,786.17 531.27,784.37 532,782.63 532.73,780.95 533.47,779.33 534.2,777.78 534.94,776.31 535.67,774.91 536.41,773.6 537.14,772.37 537.88,771.23 538.61,770.18 539.35,769.22 540.08,768.37 540.81,767.61 541.55,766.95 542.28,766.4 543.02,765.96 543.75,765.62 544.49,765.39 545.22,765.27 545.96,765.26 546.69,765.36 547.43,765.56 548.16,765.88 548.89,766.3 549.63,766.83 550.36,767.46 551.1,768.19 551.83,769.03 552.57,769.96 553.3,770.99 554.04,772.12 554.77,773.33 555.5,774.62 556.24,776 556.97,777.46 557.71,778.99 558.44,780.6 559.18,782.26 559.91,783.99 560.65,785.78 561.38,787.62 562.12,789.51 562.85,791.44 563.58,793.41 564.32,795.41 565.05,797.44 565.79,799.49 566.52,801.57 567.26,803.66 567.99,805.76 568.73,807.86 569.46,809.97 570.2,812.08 570.93,814.18 571.66,816.27 572.4,818.34 573.13,820.4 573.87,822.44 574.6,824.45 575.34,826.43 576.07,828.39 576.81,830.31 577.54,832.2 578.28,834.05 579.01,835.87 579.74,837.64 580.48,839.37 581.21,841.05 581.95,842.69 582.68,844.29 583.42,845.83 584.15,847.33 584.89,848.78 585.62,850.19 586.36,851.54 587.09,852.85 587.82,854.1 588.56,855.31 589.29,856.47 590.03,857.59 590.76,858.65 591.5,859.67 592.23,860.65 592.97,861.58 593.7,862.46 594.44,863.3 595.17,864.11 595.9,864.87 596.64,865.59 597.37,866.27 598.11,866.92 598.84,867.53 599.58,868.11 600.31,868.66 601.05,869.17 601.78,869.65 602.52,870.1 603.25,870.53 603.98,870.93 604.72,871.3 605.45,871.65 606.19,871.98 606.92,872.28 607.66,872.57 608.39,872.83 609.13,873.08 609.86,873.3 610.6,873.52 611.33,873.71 612.06,873.89 612.8,874.06 613.53,874.22 614.27,874.36 615,874.49 615.74,874.61 616.47,874.72 617.21,874.83 617.94,874.92 618.67,875.01 619.41,875.09 620.14,875.16 620.88,875.23 621.61,875.29 622.35,875.34 623.08,875.39 623.82,875.44 624.55,875.48 625.29,875.52 626.02,875.55 626.75,875.58 627.49,875.61 628.22,875.63 628.96,875.66 629.69,875.68 630.43,875.7 631.16,875.71 631.9,875.73 632.63,875.74 633.37,875.75 634.1,875.76 634.83,875.77 635.57,875.78 636.3,875.79 637.04,875.8 637.77,875.8 638.51,875.81 639.24,875.81 639.98,875.82 640.71,875.82 641.45,875.83 642.18,875.83 642.91,875.83 643.65,875.83 644.38,875.84 645.12,875.84 645.85,875.84 646.59,875.84 647.32,875.84 648.06,875.84 648.79,875.84 649.53,875.84 650.26,875.85 650.99,875.85 651.73,875.85 652.46,875.85 653.2,875.85 653.93,875.85 654.67,875.85 655.4,875.85 656.14,875.85 656.87,875.85 657.61,875.85 658.34,875.85 659.07,875.85 659.81,875.85 660.54,875.85 661.28,875.85 662.01,875.85 662.75,875.85 663.48,875.85 664.22,875.85 664.95,875.85 665.69,875.85" fill="none" stroke="#2424a8" stroke-width="1.5"/>
<circle cx="449.3" cy="878.8" r="2.9" fill="#333"/>
<circle cx="456.9" cy="876.3" r="2.9" fill="#333"/>
<circle cx="464.9" cy="879.7" r="2.9" fill="#333"/>
<circle cx="472.6" cy="871.5" r="2.9" fill="#333"/>
<circle cx="480.4" cy="868.6" r="2.9" fill="#333"/>
<circle cx="488.4" cy="857.2" r="2.9" fill="#333"/>
<circle cx="496.4" cy="851.1" r="2.9" fill="#333"/>
<circle cx="504.3" cy="845.6" r="2.9" fill="#333"/>
<circle cx="512.3" cy="833.7" r="2.9" fill="#333"/>
<circle cx="520" cy="811.2" r="2.9" fill="#333"/>
<circle cx="528" cy="801.3" r="2.9" fill="#333"/>
<circle cx="535.8" cy="769" r="2.9" fill="#333"/>
<circle cx="543.5" cy="758.4" r="2.9" fill="#333"/>
<circle cx="551.5" cy="771.2" r="2.9" fill="#333"/>
<circle cx="559.2" cy="767.3" r="2.9" fill="#333"/>
<circle cx="567" cy="805.6" r="2.9" fill="#333"/>
<circle cx="575.2" cy="841.7" r="2.9" fill="#333"/>
<circle cx="583.2" cy="831.1" r="2.9" fill="#333"/>
<circle cx="590.9" cy="843.1" r="2.9" fill="#333"/>
<circle cx="599.1" cy="870.8" r="2.9" fill="#333"/>
<circle cx="606.7" cy="856.7" r="2.9" fill="#333"/>
<circle cx="614.4" cy="880.7" r="2.9" fill="#333"/>
<circle cx="622.4" cy="867.4" r="2.9" fill="#333"/>
<circle cx="630.4" cy="871.5" r="2.9" fill="#333"/>
<circle cx="638.2" cy="886.2" r="2.9" fill="#333"/>
<circle cx="646.3" cy="881.4" r="2.9" fill="#333"/>
<circle cx="654.3" cy="872.5" r="2.9" fill="#333"/>
<circle cx="661.6" cy="879.4" r="2.9" fill="#333"/>
</g>
<rect x="449" y="737.4" width="213.2" height="157.7" fill="none" stroke="#555" stroke-width="1"/>
<text x="445" y="899.9" font-size="13.8" text-anchor="end" fill="#111" stroke="#111" stroke-width="0.45">3</text>
<text x="445" y="864.9" font-size="13.8" text-anchor="end" fill="#111" stroke="#111" stroke-width="0.45">4</text>
<text x="445" y="829.9" font-size="13.8" text-anchor="end" fill="#111" stroke="#111" stroke-width="0.45">5</text>
<text x="445" y="794.9" font-size="13.8" text-anchor="end" fill="#111" stroke="#111" stroke-width="0.45">6</text>
<text x="445" y="759.9" font-size="13.8" text-anchor="end" fill="#111" stroke="#111" stroke-width="0.45">7</text>
<text x="464.4" y="909.8" font-size="13.8" text-anchor="middle" fill="#111" stroke="#111" stroke-width="0.45">-100</text>
<text x="503.75" y="909.8" font-size="13.8" text-anchor="middle" fill="#111" stroke="#111" stroke-width="0.45">-50</text>
<text x="543.7" y="909.8" font-size="13.8" text-anchor="middle" fill="#111" stroke="#111" stroke-width="0.45">0</text>
<text x="583.05" y="909.8" font-size="13.8" text-anchor="middle" fill="#111" stroke="#111" stroke-width="0.45">50</text>
<text x="622.4" y="909.8" font-size="13.8" text-anchor="middle" fill="#111" stroke="#111" stroke-width="0.45">100</text>
<text x="661.75" y="909.8" font-size="13.8" text-anchor="middle" fill="#111" stroke="#111" stroke-width="0.45">150</text>
<text x="494.4" y="929.7" font-size="21.4" fill="#111" stroke="#111" stroke-width="0.45" font-family="Liberation Serif">ω</text>
<text x="508.3" y="935.3" font-size="11.5" fill="#111" stroke="#111" stroke-width="0.45">dip</text>
<text x="522.6" y="929.7" font-size="16" fill="#111" stroke="#111" stroke-width="0.45">-</text>
<text x="531.7" y="929.7" font-size="21.4" fill="#111" stroke="#111" stroke-width="0.45" font-family="Liberation Serif">ω</text>
<text x="545.8" y="935.3" font-size="11.5" fill="#111" stroke="#111" stroke-width="0.45">z</text>
<text x="556.3" y="929.7" font-size="18" fill="#111" stroke="#111" stroke-width="0.45">(Hz/2π)</text>
<text transform="translate(422.5,851.8) rotate(-90)" font-size="17" fill="#111" stroke="#111" stroke-width="0.45">σ</text>
<text transform="translate(426.5,841.5) rotate(-90)" font-size="11" fill="#111" stroke="#111" stroke-width="0.45">z</text>
<text transform="translate(422.5,831.5) rotate(-90)" font-size="17.5" fill="#111" stroke="#111" stroke-width="0.45" letter-spacing="1">(μm)</text>
<text x="470.6" y="759.6" font-size="17" fill="#6e6a12" stroke="#6e6a12" stroke-width="0.45" font-style="italic">V<tspan font-style="normal" font-size="11" dy="5">4</tspan></text>
<text x="570.5" y="759.6" font-size="16.3" fill="#111" stroke="#111" stroke-width="0.45"><tspan font-family="Liberation Serif" font-size="17">ν</tspan><tspan font-size="11" dy="5">z</tspan><tspan dy="-5">= 202 kHz</tspan></text>
</svg></body></html>
